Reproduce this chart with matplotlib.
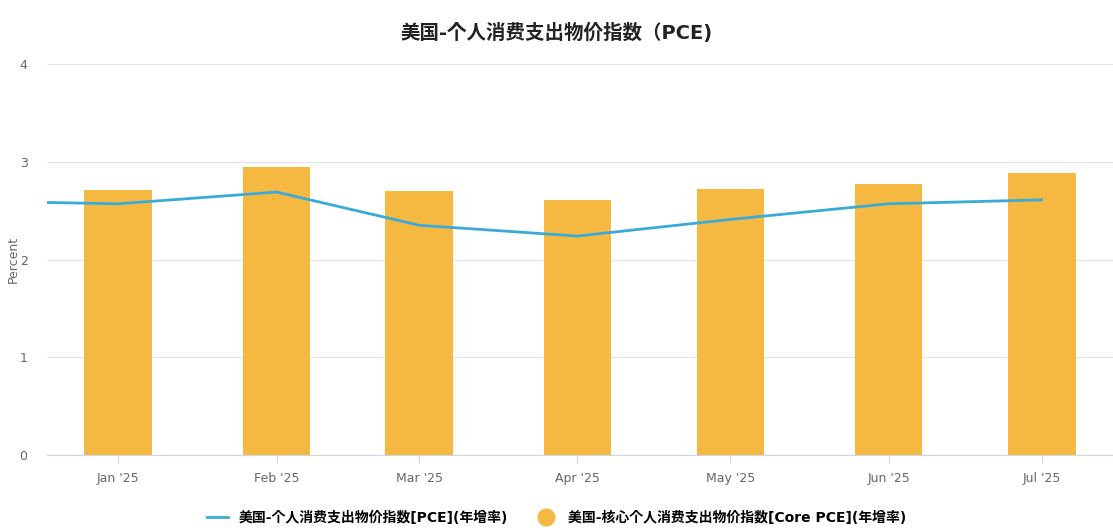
import datetime as dt
import matplotlib
matplotlib.use("Agg")
import matplotlib.pyplot as plt
from matplotlib.lines import Line2D

plt.rcParams["font.family"] = ["DejaVu Sans", "Noto Sans CJK JP", "Noto Sans CJK SC",
                               "Noto Sans CJK TC", "Noto Sans CJK KR"]

months = [dt.date(2025, m, 1) for m in range(1, 8)]
tickLabels = ["Jan '25", "Feb '25", "Mar '25", "Apr '25", "May '25", "Jun '25", "Jul '25"]
coreValues = [2.71, 2.95, 2.70, 2.61, 2.72, 2.77, 2.88]
lineDates = [dt.date(2024, 12, 1)] + months
pceValues = [2.60, 2.57, 2.69, 2.35, 2.24, 2.41, 2.57, 2.61]

fig = plt.figure(figsize=(11.13, 5.30), dpi=100)
ax = fig.add_axes([47 / 1113, 1 - 455 / 530, 1 - 47 / 1113, 391 / 530])

ax.bar(months, coreValues, width=13.3, color="#f5b942", zorder=2)
ax.plot(lineDates, pceValues, color="#3aabd8", linewidth=2, zorder=3)

ax.set_xlim(dt.date(2024, 12, 18), dt.date(2025, 7, 15))
ax.set_ylim(0, 4)
ax.set_yticks([0, 1, 2, 3, 4])
ax.set_xticks(months)
ax.set_xticklabels(tickLabels)
ax.grid(axis="y", color="#e6e6e6", linewidth=1, zorder=0)
ax.tick_params(axis="y", length=0, labelsize=9, colors="#666666", pad=14)
ax.tick_params(axis="x", length=6, color="#ccd6eb", labelsize=9, colors="#666666", pad=6)
for side in ["top", "right", "left"]:
    ax.spines[side].set_visible(False)
ax.spines["bottom"].set_color("#ccd6eb")
ax.set_ylabel("Percent", color="#666666", fontsize=9, labelpad=0)

fig.text(0.5, 1 - 33 / 530, "美国-个人消费支出物价指数（PCE)", ha="center", va="center",
         fontsize=14, fontweight="bold", color="#222222")

handles = [
    Line2D([], [], color="#3aabd8", linewidth=2),
    Line2D([], [], marker="o", linestyle="none", markersize=12, color="#f5b942"),
]
labels = ["美国-个人消费支出物价指数[PCE](年增率)", "美国-核心个人消费支出物价指数[Core PCE](年增率)"]
fig.legend(handles, labels, loc="center", bbox_to_anchor=(0.5, 1 - 518 / 530), ncol=2,
           frameon=False, prop={"size": 10, "weight": "bold"}, handlelength=1.5, columnspacing=2)

fig.savefig("out.png", dpi=100)
